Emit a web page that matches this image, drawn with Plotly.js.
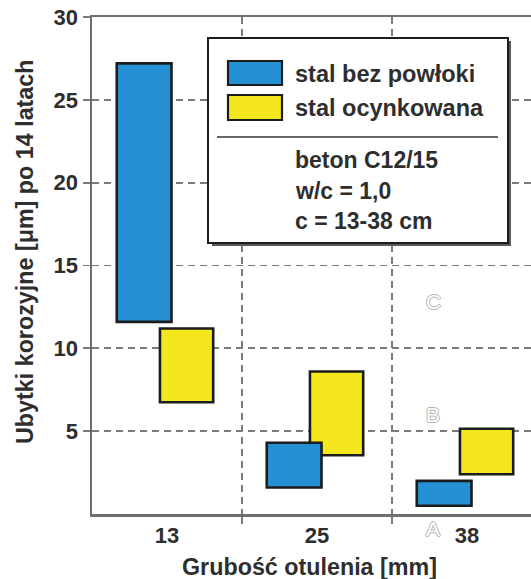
<!DOCTYPE html>
<html><head><meta charset="utf-8">
<script src="https://cdn.plot.ly/plotly-3.0.1.min.js"></script>
<style>html,body{margin:0;padding:0;overflow:hidden;background:#fff}#chart{width:545px;height:579px}</style>
</head><body><div id="chart"></div>
<script>
// ---- data ----
const categories = ['13', '25', '38'];           // grubość otulenia [mm]
const blueLow  = [11.6, 1.6, 0.5];               // stal bez powłoki – min
const blueHigh = [27.2, 4.3, 2.0];               // stal bez powłoki – max
const yellowLow  = [6.75, 3.55, 2.4];            // stal ocynkowana – min
const yellowHigh = [11.2, 8.6, 5.15];            // stal ocynkowana – max
const seriesNames = ['stal bez powłoki', 'stal ocynkowana'];
const infoLines = ['beton C12/15', 'w/c = 1,0', 'c = 13-38 cm'];
const zoneLabels = ['A', 'B', 'C'];
const zoneY = [-0.85, 6.0, 12.8];
const yTicks = [5, 10, 15, 20, 25, 30];
const xTitle = 'Grubość otulenia [mm]';
const yTitle = 'Ubytki korozyjne [μm] po 14 latach';

// ---- style ----
const BLUE = '#2590d4', YELLOW = '#f4e71e', EDGE = '#1c1c1c', TXT = '#2e2e2e', GRID = '#7a7a7a';
const FONT = 'Liberation Sans, Arial, sans-serif';
const W = 545, H = 579, ML = 92, MR = 3, MT = 17, MB = 65;
const PW = W - ML - MR, PH = H - MT - MB;
const px = X => (X - ML) / PW, py = Y => (H - MB - Y) / PH;

const xc = categories.map((c, i) => i + 0.5);
const traces = [
  { type: 'bar', x: xc, base: yellowLow, y: yellowHigh.map((v, i) => v - yellowLow[i]),
    offset: -0.047, width: 0.355, name: seriesNames[1], showlegend: false,
    marker: { color: YELLOW, line: { color: EDGE, width: 2.6 } }, hoverinfo: 'skip' },
  { type: 'bar', x: xc, base: blueLow, y: blueHigh.map((v, i) => v - blueLow[i]),
    offset: -0.335, width: 0.365, name: seriesNames[0], showlegend: false,
    marker: { color: BLUE, line: { color: EDGE, width: 2.6 } }, hoverinfo: 'skip' }
];

// custom legend box
const shapes = [
  { type: 'rect', xref: 'paper', yref: 'paper', x0: px(212), x1: px(511), y0: py(41), y1: py(246),
    fillcolor: '#5a5a5a', line: { width: 0 } },
  { type: 'rect', xref: 'paper', yref: 'paper', x0: px(208), x1: px(508), y0: py(38), y1: py(243),
    fillcolor: '#ffffff', line: { color: EDGE, width: 2 } },
  { type: 'rect', xref: 'paper', yref: 'paper', x0: px(228), x1: px(282), y0: py(61), y1: py(85),
    fillcolor: BLUE, line: { color: EDGE, width: 2.2 } },
  { type: 'rect', xref: 'paper', yref: 'paper', x0: px(228), x1: px(282), y0: py(95), y1: py(120),
    fillcolor: YELLOW, line: { color: EDGE, width: 2.2 } },
  { type: 'line', xref: 'paper', yref: 'paper', x0: px(217), x1: px(498), y0: py(137), y1: py(137),
    line: { color: '#333', width: 1.5 } }
];

const annotations = [];
const legendY = [74, 108], infoY = [160, 191, 221];
seriesNames.forEach((n, i) => annotations.push({
  xref: 'paper', yref: 'paper', x: px(293), y: py(legendY[i]), xanchor: 'left', yanchor: 'middle',
  text: '<b>' + n + '</b>', showarrow: false, font: { family: FONT, size: 23.5, color: TXT } }));
infoLines.forEach((t, i) => annotations.push({
  xref: 'paper', yref: 'paper', x: px(293), y: py(infoY[i]), xanchor: 'left', yanchor: 'middle',
  text: '<b>' + t + '</b>', showarrow: false, font: { family: FONT, size: 23, color: TXT } }));
zoneLabels.forEach((t, i) => annotations.push({
  xref: 'paper', yref: 'paper', x: px(433), y: zoneY[i] / 30, xanchor: 'center', yanchor: 'middle',
  text: t, showarrow: false,
  font: { family: FONT, size: 21, color: '#ffffff',
    shadow: '-1px 0 #b4b4b4, 1px 0 #b4b4b4, 0 -1px #b4b4b4, 0 1px #b4b4b4' } }));
// axis titles
annotations.push({ xref: 'paper', yref: 'paper', x: px(309.5), y: py(567), xanchor: 'center', yanchor: 'middle',
  text: '<b>' + xTitle + '</b>', showarrow: false, font: { family: FONT, size: 23.3, color: TXT } });
annotations.push({ xref: 'paper', yref: 'paper', x: px(25), y: py(252), xanchor: 'center', yanchor: 'middle',
  textangle: -90, text: '<b>' + yTitle + '</b>', showarrow: false, font: { family: FONT, size: 23.3, color: TXT } });

const layout = {
  width: W, height: H, margin: { l: ML, r: MR, t: MT, b: MB },
  paper_bgcolor: '#fff', plot_bgcolor: '#fff', barmode: 'overlay', showlegend: false,
  font: { family: FONT, color: TXT },
  xaxis: {
    range: [0, 3], tickmode: 'array', tickvals: xc, ticktext: categories.map(c => '<b>' + c + '</b>'),
    ticks: '', showgrid: false, zeroline: false,
    showline: true, linecolor: '#6e6e6e', linewidth: 2.5, mirror: true,
    tickfont: { family: FONT, size: 22, color: TXT },
    minor: { tickmode: 'array', tickvals: [1, 2], ticks: 'outside', ticklen: 7, tickwidth: 1.8,
      tickcolor: GRID, showgrid: true, gridcolor: GRID, gridwidth: 1.8, griddash: '7px,5px' }
  },
  yaxis: {
    range: [0, 30], tickmode: 'array', tickvals: yTicks, ticktext: yTicks.map(v => '<b>' + v + '</b>'),
    ticks: 'outside', ticklen: 7, tickwidth: 1.8, tickcolor: GRID,
    showgrid: true, gridcolor: GRID, gridwidth: 1.8, griddash: '7px,5px', zeroline: false,
    showline: true, linecolor: '#6e6e6e', linewidth: 2.5,
    tickfont: { family: FONT, size: 22, color: TXT }
  },
  shapes, annotations
};
Plotly.newPlot('chart', traces, layout, { staticPlot: true, displayModeBar: false });
</script></body></html>
